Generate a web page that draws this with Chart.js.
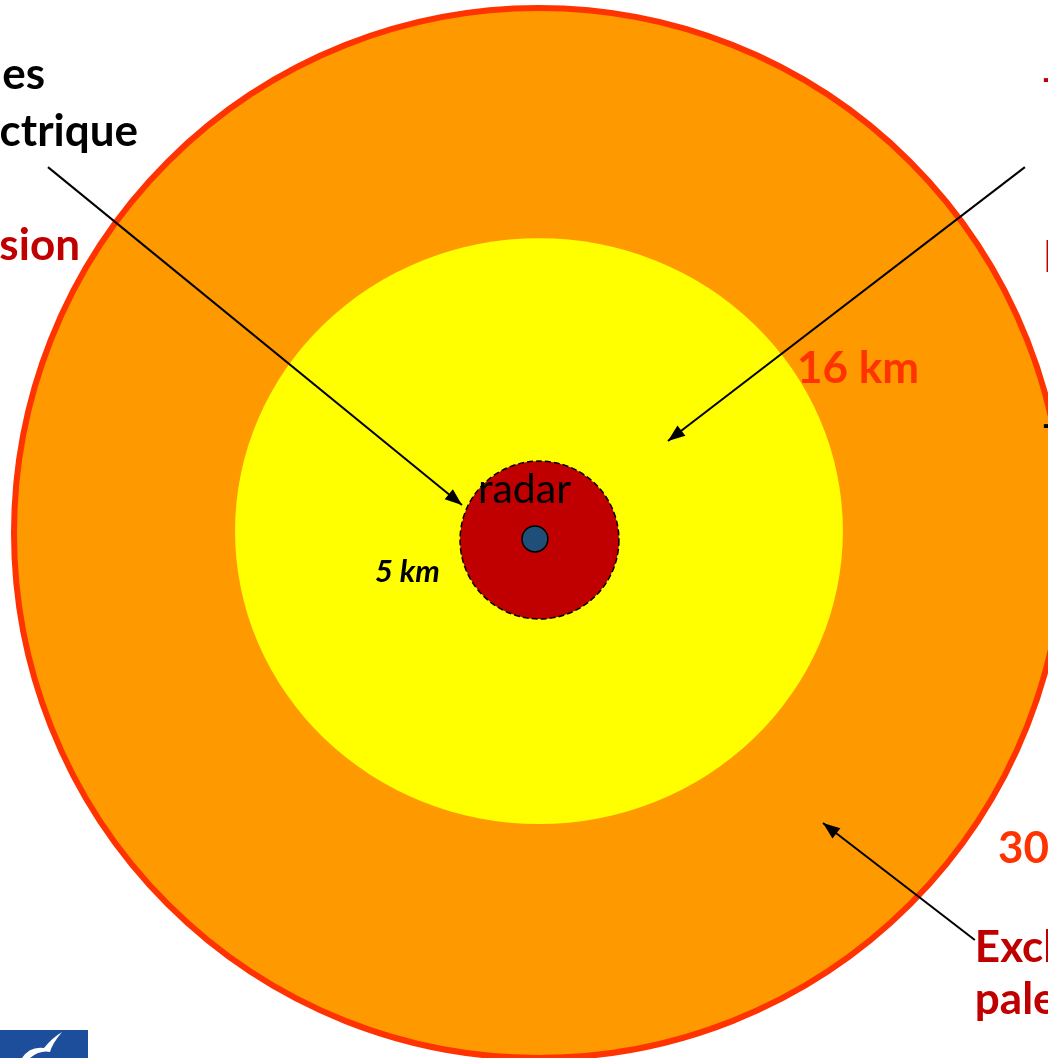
<!DOCTYPE html>
<html>
<head>
<meta charset="utf-8">
<script src="https://cdn.jsdelivr.net/npm/chart.js@4"></script>
<style>
  html, body { margin: 0; padding: 0; background: #fff; }
  #zones { display: block; }
</style>
</head>
<body>
<canvas id="zones" width="1048" height="1058"></canvas>
<script>
// zones around the radar, in km-like units (radii)
const zoneNames = ['30 km', '16 km', '5 km'];
const zoneRx = [30, 17.37, 4.54];
const zoneRy = [30, 16.74, 4.51];
const zoneCx = [0, 0, 0.03];
const zoneCy = [0, 0.11, -0.4];

const radarPos = { x: -0.23, y: -0.34, r: 0.74 };

// arrows: start -> end
const arrowFrom = [[-28.06, 20.91], [27.77, 20.91], [24.91, -23.26]];
const arrowTo = [[-4.4, 1.6], [7.37, 5.26], [16.23, -16.57]];

// text labels
const labelText = ['les', 'ctrique', 'sion', '16 km', '5 km', 'radar', '30', 'Excl', 'pale', '–', 'D', '–'];
const labelX = [-28.23, -22.91, -26.23, 14.74, -9.37, -3.49, 26.23, 24.91, 24.91, 28.63, 28.8, 28.63];
const labelY = [26.17, 22.91, 16.4, 9.37, -2.23, 2.46, -18.06, -23.71, -26.69, 25.94, 15.71, 6.17];
const labelKind = ['black', 'black', 'red', 'orange', 'small', 'radar', 'orange', 'red', 'red', 'red', 'red', 'black'];

const kindStyle = {
  black: { font: 'bold 44px Lato', color: '#000' },
  red: { font: 'bold 44px Lato', color: '#C00000' },
  orange: { font: 'bold 44px Lato', color: '#FF3300' },
  small: { font: 'italic bold 31px Lato', color: '#000' },
  radar: { font: '41px Lato', color: '#000' },
};
// left column labels are right aligned to the edge they were read from
const rightAligned = ['les', 'ctrique', 'sion'];

const zoneFill = ['#FF9900', '#FFFF00', '#C00000'];

const zonesPlugin = {
  id: 'zones',
  beforeDatasetsDraw(chart) {
    const { ctx, scales: { x, y } } = chart;
    const ux = x.getPixelForValue(1) - x.getPixelForValue(0);
    const uy = y.getPixelForValue(0) - y.getPixelForValue(1);
    zoneNames.forEach((name, i) => {
      ctx.save();
      ctx.beginPath();
      ctx.ellipse(x.getPixelForValue(zoneCx[i]), y.getPixelForValue(zoneCy[i]),
        zoneRx[i] * ux, zoneRy[i] * uy, 0, 0, Math.PI * 2);
      ctx.fillStyle = zoneFill[i];
      ctx.fill();
      if (i === 0) {
        ctx.lineWidth = 6;
        ctx.strokeStyle = '#FF3300';
        ctx.stroke();
      }
      if (i === 2) {
        ctx.lineWidth = 1.5;
        ctx.setLineDash([6, 3]);
        ctx.strokeStyle = '#000';
        ctx.stroke();
      }
      ctx.restore();
    });
    // radar dot
    ctx.save();
    ctx.beginPath();
    ctx.arc(x.getPixelForValue(radarPos.x), y.getPixelForValue(radarPos.y), radarPos.r * ux, 0, Math.PI * 2);
    ctx.fillStyle = '#1F4E79';
    ctx.fill();
    ctx.lineWidth = 1.5;
    ctx.strokeStyle = '#000';
    ctx.stroke();
    ctx.restore();
  },
  afterDatasetsDraw(chart) {
    const { ctx, scales: { x, y } } = chart;
    // arrow heads
    arrowTo.forEach((p, i) => {
      const x0 = x.getPixelForValue(arrowFrom[i][0]), y0 = y.getPixelForValue(arrowFrom[i][1]);
      const x1 = x.getPixelForValue(p[0]), y1 = y.getPixelForValue(p[1]);
      const a = Math.atan2(y1 - y0, x1 - x0);
      ctx.save();
      ctx.translate(x1, y1);
      ctx.rotate(a);
      ctx.beginPath();
      ctx.moveTo(0, 0);
      ctx.lineTo(-17, -6.5);
      ctx.lineTo(-17, 6.5);
      ctx.closePath();
      ctx.fillStyle = '#000';
      ctx.fill();
      ctx.restore();
    });
    // labels
    labelText.forEach((t, i) => {
      const s = kindStyle[labelKind[i]];
      ctx.save();
      ctx.font = s.font;
      ctx.fillStyle = s.color;
      ctx.textAlign = rightAligned.includes(t) ? 'right' : 'left';
      ctx.textBaseline = 'middle';
      ctx.fillText(t, x.getPixelForValue(labelX[i]), y.getPixelForValue(labelY[i]));
      ctx.restore();
    });
  },
  afterDraw(chart) {
    // small logo block in the bottom left corner
    const { ctx, chartArea } = chart;
    const bx = chartArea.left, by = chartArea.bottom - 28;
    ctx.save();
    ctx.fillStyle = '#1D4E9B';
    ctx.fillRect(bx, by, 88, 28);
    ctx.fillStyle = '#fff';
    ctx.beginPath();
    ctx.moveTo(bx + 22, by + 28);
    ctx.quadraticCurveTo(bx + 30, by + 16, bx + 44, by + 18);
    ctx.quadraticCurveTo(bx + 52, by + 8, bx + 62, by + 2);
    ctx.quadraticCurveTo(bx + 52, by + 14, bx + 50, by + 22);
    ctx.quadraticCurveTo(bx + 40, by + 20, bx + 30, by + 28);
    ctx.closePath();
    ctx.fill();
    ctx.restore();
  },
};

const arrowSets = arrowFrom.map((p, i) => ({
  data: [{ x: p[0], y: p[1] }, { x: arrowTo[i][0], y: arrowTo[i][1] }],
  showLine: true,
  borderColor: '#000',
  borderWidth: 2,
  pointRadius: 0,
}));

new Chart(document.getElementById('zones'), {
  type: 'scatter',
  data: { datasets: arrowSets },
  options: {
    responsive: false,
    animation: false,
    devicePixelRatio: 1,
    layout: { padding: 0 },
    plugins: { legend: { display: false }, tooltip: { enabled: false } },
    scales: {
      x: { type: 'linear', display: false, min: -30.8, max: 29.09 },
      y: { type: 'linear', display: false, min: -30.0, max: 30.46 },
    },
  },
  plugins: [zonesPlugin],
});
</script>
</body>
</html>
